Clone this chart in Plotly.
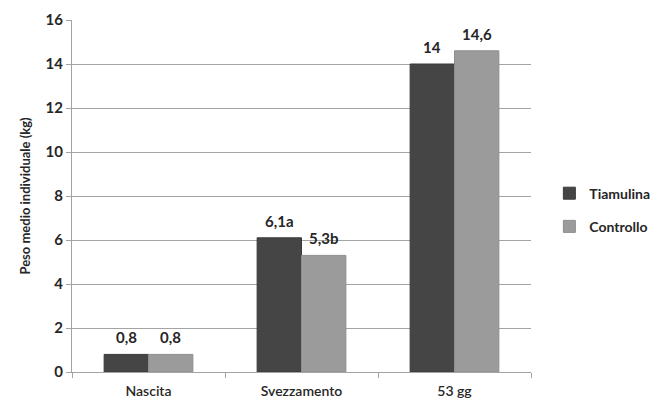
import plotly.graph_objects as go

categories = ["Nascita", "Svezzamento", "53 gg"]
tiamulina = [0.8, 6.1, 14.0]
controllo = [0.8, 5.3, 14.6]
tiamulina_labels = ["0,8", "6,1a", "14"]
controllo_labels = ["0,8", "5,3b", "14,6"]
y_ticks = [0, 2, 4, 6, 8, 10, 12, 14, 16]

FONT = "Lato"
TEXT = "#262626"
GRID = "#a3a3a3"
BARGAP = 0.42

fig = go.Figure()
fig.add_trace(go.Bar(
    name="Tiamulina", x=categories, y=tiamulina, legendgroup="t",
    marker=dict(color="#454545", line=dict(color="#3a3a3a", width=1)),
))
fig.add_trace(go.Bar(
    name="Controllo", x=categories, y=controllo, legendgroup="c",
    marker=dict(color="#9b9b9b", line=dict(color="#8e8e8e", width=1)),
))

# value labels above each bar, shifted to the centre of its bar in the group
plot_w = 667 - 72 - 130
bar_px = plot_w / len(categories) * (1 - BARGAP) / 2
for labels, values, side in ((tiamulina_labels, tiamulina, -1), (controllo_labels, controllo, 1)):
    for cat, lab, val in zip(categories, labels, values):
        fig.add_annotation(
            x=cat, y=val, text=lab, showarrow=False,
            xshift=side * bar_px / 2, yshift=6, yanchor="bottom",
            font=dict(family=FONT, size=15, color=TEXT, weight="bold"),
        )

fig.update_layout(
    width=667, height=406,
    margin=dict(l=72, r=130, t=20, b=34),
    paper_bgcolor="white", plot_bgcolor="white",
    barmode="group", bargap=BARGAP, bargroupgap=0,
    font=dict(family=FONT, color=TEXT),
    legend=dict(
        x=1.04, y=0.46, xanchor="left", yanchor="middle",
        font=dict(family=FONT, size=14, color=TEXT, weight="bold"),
        itemwidth=30, tracegroupgap=12, bgcolor="rgba(0,0,0,0)",
    ),
    showlegend=True,
)
fig.update_yaxes(
    range=[0, 16], tickvals=y_ticks, ticktext=[str(v) for v in y_ticks],
    automargin=False,
    showgrid=True, gridcolor=GRID, gridwidth=1,
    showline=True, linecolor=GRID, linewidth=1,
    ticks="outside", ticklen=5, tickcolor=GRID,
    tickfont=dict(family=FONT, size=15, color=TEXT, weight="bold"),
    title=dict(text="Peso medio individuale (kg)",
               font=dict(family=FONT, size=13, color=TEXT, weight="bold"),
               standoff=12),
    zeroline=False,
)
fig.update_xaxes(
    automargin=False,
    showline=True, linecolor=GRID, linewidth=1,
    ticks="outside", ticklen=5, tickcolor=GRID, tickson="boundaries",
    ticklabelstandoff=6,
    tickfont=dict(family=FONT, size=14, color=TEXT, weight=600),
)

fig.write_html("out.html")
